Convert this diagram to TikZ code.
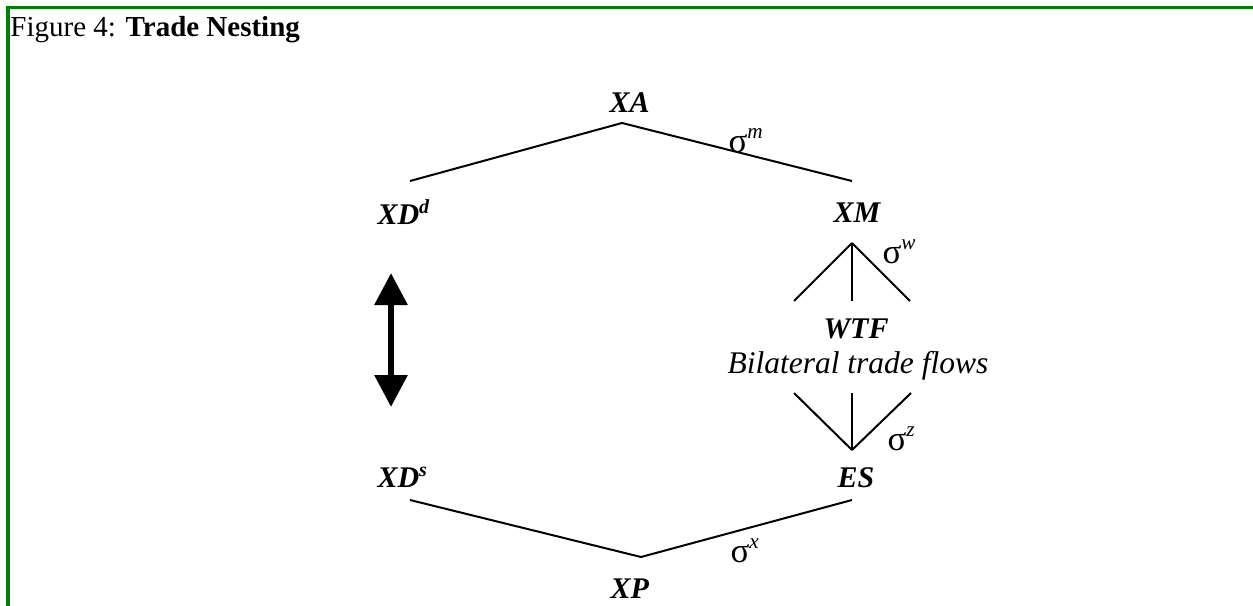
\documentclass[tikz,border=0pt]{standalone}
\usepackage{fontspec}
\setmainfont{Liberation Serif}
\usetikzlibrary{arrows.meta}
\definecolor{framegreen}{RGB}{0,128,0}
\newcommand{\sigsup}[1]{{\fontsize{14}{16}\selectfont σ}\raisebox{5.5pt}{\fontsize{8.5}{10}\selectfont\itshape #1}}
\tikzset{
  lab/.style={inner sep=0pt, font=\fontsize{12}{14}\selectfont\bfseries\itshape},
  note/.style={inner sep=0pt, font=\fontsize{12.6}{14}\selectfont\itshape},
  sig/.style={inner sep=0pt, font=\fontsize{12}{14}\selectfont},
  branch/.style={line width=0.8pt},
  bigarrow/.style={line width=2.4pt, {Triangle[width=12.8pt,length=12.8pt]}-{Triangle[width=12.8pt,length=12.8pt]}}
}
\begin{document}
\begin{tikzpicture}[x=0.4pt,y=-0.4pt]
\useasboundingbox (0,0) rectangle (1253,606);
% frame
\fill[framegreen] (6,6) rectangle (1253,9);
\fill[framegreen] (6,6) rectangle (10,606);
% header
\node[inner sep=0pt, anchor=base west, font=\fontsize{11.6}{14}\selectfont] (title) at (10,37) {Figure 4: \textbf{Trade Nesting}};
% labels
\node[lab, anchor=base west] (XA) at (609,112) {XA};
\node[lab, anchor=base west] (XDd) at (377,224) {XD\textsuperscript{d}};
\node[lab, anchor=base west] (XM) at (833,222) {XM};
\node[lab, anchor=base] (WTF) at (856,338) {WTF};
\node[note, anchor=base west] (btf) at (727,373) {Bilateral trade flows};
\node[lab, anchor=base west] (ES) at (837,487) {ES};
\node[lab, anchor=base west] (XDs) at (377,487) {XD\textsuperscript{s}};
\node[lab, anchor=base west] (XP) at (610,598) {XP};
% elasticities
\node[sig, anchor=base west] (sm) at (728,152) {\sigsup{m}};
\node[sig, anchor=base west] (sw) at (882,263) {\sigsup{w}};
\node[sig, anchor=base west] (sz) at (887,450) {\sigsup{z}};
\node[sig, anchor=base west] (sx) at (730,562) {\sigsup{x}};
% vertices
\coordinate (aXA) at (622,123);
\coordinate (aXAl) at (410,181);
\coordinate (aXAr) at (852,181);
\coordinate (aXM) at (852,243);
\coordinate (aXMl) at (794,301);
\coordinate (aXMc) at (852,301);
\coordinate (aXMr) at (910,301);
\coordinate (aES) at (852,450);
\coordinate (aESl) at (794,393);
\coordinate (aESc) at (852,393);
\coordinate (aESr) at (911,393);
\coordinate (aXP) at (641,557);
\coordinate (aXPl) at (410,500);
\coordinate (aXPr) at (852,500);
\coordinate (arrT) at (391,273);
\coordinate (arrB) at (391,407);
% branches
\draw[branch] (aXAl) -- (aXA) -- (aXAr);
\draw[branch] (aXM) -- (aXMl);
\draw[branch] (aXM) -- (aXMc);
\draw[branch] (aXM) -- (aXMr);
\draw[branch] (aESl) -- (aES);
\draw[branch] (aESc) -- (aES);
\draw[branch] (aESr) -- (aES);
\draw[branch] (aXPl) -- (aXP) -- (aXPr);
% double arrow
\draw[bigarrow] (arrT) -- (arrB);
\end{tikzpicture}
\end{document}
